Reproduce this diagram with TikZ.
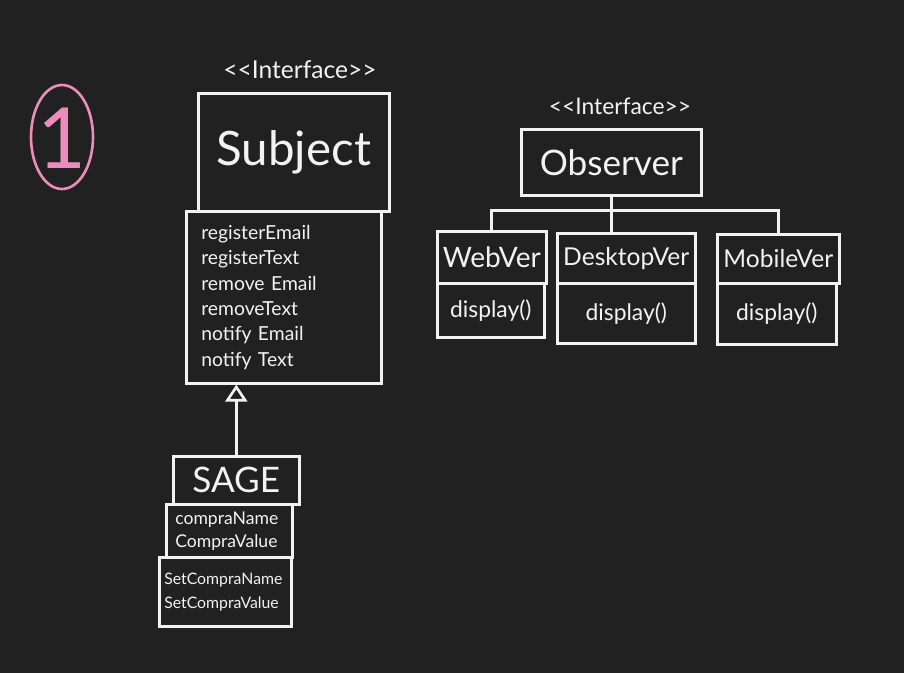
\documentclass[tikz,border=0pt]{standalone}
\usepackage{fontspec}
\setmainfont{Lato}
\usetikzlibrary{arrows.meta}
\definecolor{board}{RGB}{33,33,33}
\definecolor{chalk}{RGB}{242,242,242}
\definecolor{marker}{RGB}{236,140,190}

\begin{document}
\begin{tikzpicture}[x=0.02cm, y=-0.02cm,
        box/.style={draw=chalk, line width=1.5pt, inner sep=0pt, anchor=north west, text=chalk},
        ops/.style={box, align=left},
        stereo/.style={text=chalk, font=\fontsize{14}{14}\selectfont},
        wire/.style={draw=chalk, line width=1.5pt}]
        \fill[board] (0,0) rectangle (904,673);
        % number in the corner
        \draw[marker, line width=1.5pt] (62,137) ellipse [x radius=31, y radius=52];
        \node[text=marker, font=\fontsize{48}{48}\selectfont] (num) at (62,138) {1};
        % subject side
        \node[stereo] (subjtag) at (300,70) {<{}<Interface>{}>};
        \node[box, minimum width=3.82cm, minimum height=2.36cm, font=\fontsize{27}{27}\selectfont] (subj) at (197,92) {Subject};
        \node[ops, minimum height=3.44cm, inner xsep=0.3cm, text width=3.3cm, font=\fontsize{11}{14.5}\selectfont] (subjops) at (185,210) {registerEmail\\registerText\\remove Email\\removeText\\notify Email\\notify Text};
        \node[box, minimum width=2.52cm, minimum height=0.96cm, font=\fontsize{20}{20}\selectfont] (sage) at (172,455) {SAGE};
        \node[ops, minimum height=1.06cm, inner xsep=0.18cm, text width=2.16cm, font=\fontsize{10}{13}\selectfont] (sageattr) at (165,503) {compraName\\CompraValue};
        \node[ops, minimum height=1.38cm, inner xsep=0.1cm, text width=2.44cm, font=\fontsize{9}{13.5}\selectfont] (sageops) at (158,556) {SetCompraName\\SetCompraValue};
        \draw[wire, -{Triangle[open, length=0.34cm, width=0.44cm]}] (sage.north) -- (sage.north |- subjops.south);
        % observer side
        \node[stereo, font=\fontsize{13}{13}\selectfont] (obstag) at (620,106) {<{}<Interface>{}>};
        \node[box, minimum width=3.6cm, minimum height=1.32cm, font=\fontsize{20}{20}\selectfont] (obs) at (520,128) {Observer};
        \node[box, minimum width=2.18cm, minimum height=1.04cm, font=\fontsize{16}{16}\selectfont] (web) at (436,230) {WebVer};
        \node[box, minimum width=2.14cm, minimum height=1.08cm, font=\fontsize{13}{13}\selectfont] (webops) at (436,282) {display()};
        \node[box, minimum width=2.76cm, minimum height=1.0cm, font=\fontsize{14}{14}\selectfont] (desk) at (556,232) {DesktopVer};
        \node[box, minimum width=2.76cm, minimum height=1.2cm, font=\fontsize{13}{13}\selectfont] (deskops) at (556,282) {display()};
        \node[box, minimum width=2.44cm, minimum height=0.98cm, font=\fontsize{14}{14}\selectfont] (mob) at (716,233) {MobileVer};
        \node[box, minimum width=2.38cm, minimum height=1.22cm, font=\fontsize{13}{13}\selectfont] (mobops) at (716,282) {display()};
        \path (obs.south) ++(0,14) coordinate (bar);
        \draw[wire] (obs.south) -- (obs.south |- desk.north);
        \draw[wire] (web.north) |- (bar) -| (mob.north);
\end{tikzpicture}
\end{document}
